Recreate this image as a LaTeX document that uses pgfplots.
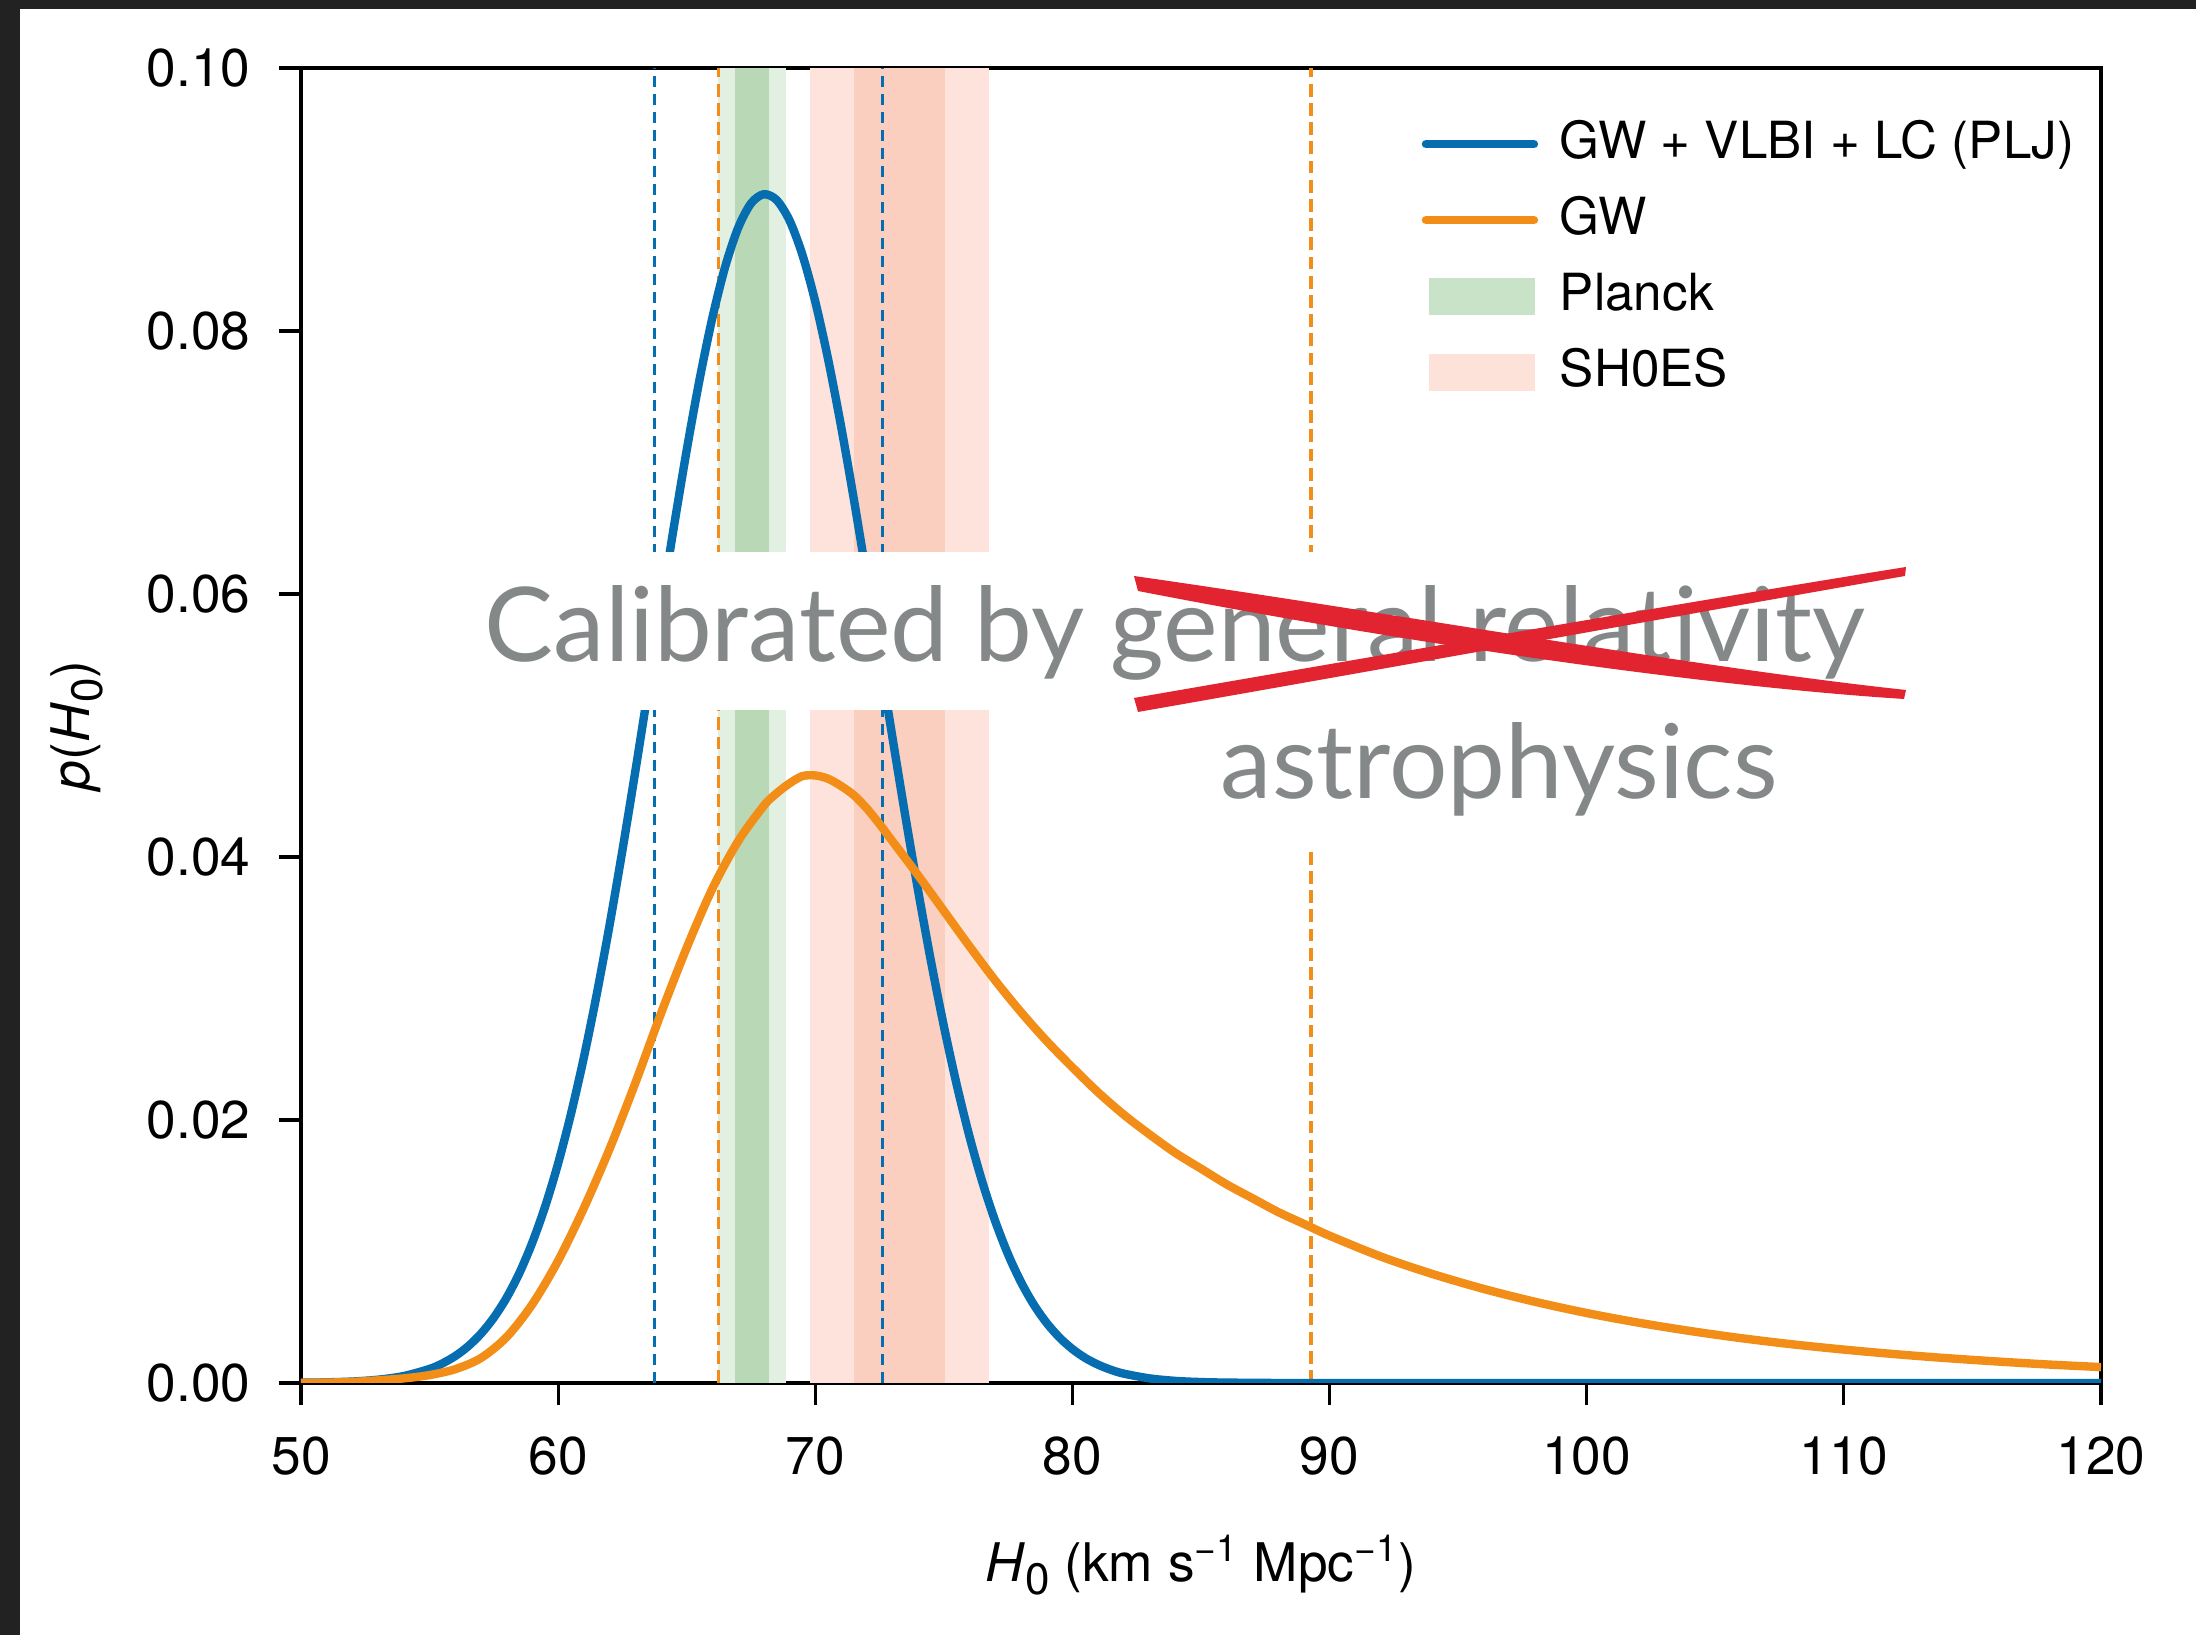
\documentclass[border=0pt]{standalone}
\usepackage{fontspec}
\setmainfont{TeX Gyre Heros}
\newfontfamily\avenir{Lato}
\usepackage{pgfplots}
\pgfplotsset{compat=1.18}
\usepackage{graphicx}

\definecolor{cblue}{RGB}{6,110,176}
\definecolor{corange}{RGB}{242,142,24}
\definecolor{pl1}{RGB}{184,216,182}
\definecolor{pl2}{RGB}{226,240,225}
\definecolor{sh1}{RGB}{250,207,191}
\definecolor{sh2}{RGB}{253,227,219}
\definecolor{plleg}{RGB}{200,227,200}
\definecolor{shleg}{RGB}{253,226,218}
\definecolor{tgray}{RGB}{132,136,137}
\definecolor{xred}{RGB}{226,36,48}
\definecolor{scrframe}{RGB}{34,34,34}

\pgfplotstableread{
h p
50 0.00002
51 0.00005
52 0.00011
53 0.00025
54 0.00053
55 0.00107
55.5 0.00149
56 0.00205
56.5 0.00279
57 0.00375
57.5 0.00497
58 0.0065
58.5 0.00839
59 0.0107
59.5 0.01345
60 0.0167
60.5 0.02047
61 0.02475
61.5 0.02955
62 0.03482
62.5 0.04051
63 0.0465
63.5 0.0527
64 0.05896
64.5 0.06509
65 0.07094
65.5 0.07631
66 0.08102
66.5 0.08491
67 0.08784
67.5 0.0897
68 0.0904
68.5 0.08995
69 0.0884
69.5 0.08579
70 0.08223
70.5 0.07784
71 0.07278
71.5 0.0672
72 0.06128
72.5 0.0552
73 0.0491
73.5 0.04313
74 0.03743
74.5 0.03206
75 0.02714
75.5 0.02268
76 0.01872
76.5 0.01526
77 0.01229
77.5 0.00977
78 0.00767
78.5 0.00595
79 0.00456
79.5 0.00345
80 0.00258
80.5 0.00190
81 0.00139
81.5 0.00100
82 0.00071
83 0.00035
84 0.00016
85 0.00007
86 0.00003
88 0.0
90 0.0
120 0.0
}\bluetab

\pgfplotstableread{
h p
50 0.00001
51 0.00003
52 0.00008
53 0.0002
54 0.00035
55 0.0006
56 0.00105
57 0.0019
58 0.0035
59 0.0060
60 0.0093
61 0.0133
62 0.0178
63 0.0228
64 0.0281
65 0.0331
66 0.0376
67 0.0412
68 0.0439
68.5 0.04485
69 0.0456
69.5 0.04615
70 0.0462
70.5 0.04595
71 0.0454
71.5 0.0447
72 0.0437
72.5 0.0425
73 0.0412
74 0.0386
75 0.0359
76 0.0332
77 0.0306
78 0.0282
79 0.0260
80 0.0240
81 0.0221
82 0.0204
83 0.0189
84 0.0175
85 0.0163
86 0.0151
87 0.01405
88 0.0130
89 0.0121
90 0.0112
92 0.00961
94 0.00829
96 0.00715
98 0.00617
100 0.00532
102 0.00459
104 0.00396
106 0.00341
108 0.00294
110 0.00254
112 0.00219
114 0.00189
116 0.00163
118 0.00140
120 0.00121
}\orangetab

\begin{document}
\begin{tikzpicture}
\fill[white] (0,0) rectangle (549pt,408.75pt);
\fill[scrframe] (0,406.5pt) rectangle (549pt,408.75pt);
\fill[scrframe] (0,0) rectangle (5pt,408.75pt);
\begin{axis}[
  scale only axis, width=450pt, height=328.75pt,
  at={(75.25pt,63pt)}, anchor=south west,
  xmin=50, xmax=120, ymin=0, ymax=0.1,
  xtick={50,60,70,80,90,100,110,120},
  ytick={0,0.02,0.04,0.06,0.08,0.1},
  yticklabel style={/pgf/number format/fixed, /pgf/number format/fixed zerofill, /pgf/number format/precision=2, inner sep=0pt, xshift=-7pt},
  /pgf/number format/assume math mode=true,
  tick align=outside, tick pos=left, major tick length=5.5pt,
  axis line style={line width=0.8pt},
  every tick/.style={black, line width=0.8pt},
  ticklabel style={font=\fontsize{13.3}{16}\selectfont},
  xticklabel style={inner sep=0pt, anchor=base, yshift=-17.5pt},
  xlabel={\textit{H}\raisebox{-0.45ex}{\fontsize{11}{12}\selectfont 0} (km s\textsuperscript{−1} Mpc\textsuperscript{−1})},
  ylabel={\textit{p}(\textit{H}\raisebox{-0.45ex}{\fontsize{11}{12}\selectfont 0})},
  label style={font=\fontsize{13.3}{16}\selectfont, inner sep=0pt},
  xlabel style={at={(axis description cs:0.5,-0.1513)}, anchor=base},
  ylabel style={at={(axis description cs:-0.1244,0.5)}, anchor=center},
  legend style={at={(axis description cs:0.6222,0.9624)}, anchor=north west,
    draw=none, fill=none, inner sep=0pt, row sep=6pt,
    font=\fontsize{12.8}{15}\selectfont,
    nodes={inner sep=0pt, text height=10pt, text depth=3pt}},
  legend cell align=left,
  clip=true,
]
% bands
\addplot[draw=none, fill=pl2, forget plot] coordinates {(66.22,0) (66.22,0.1) (68.86,0.1) (68.86,0)} -- cycle;
\addplot[draw=none, fill=pl1, forget plot] coordinates {(66.88,0) (66.88,0.1) (68.20,0.1) (68.20,0)} -- cycle;
\addplot[draw=none, fill=sh2, forget plot] coordinates {(69.79,0) (69.79,0.1) (76.76,0.1) (76.76,0)} -- cycle;
\addplot[draw=none, fill=sh1, forget plot] coordinates {(71.52,0) (71.52,0.1) (75.03,0.1) (75.03,0)} -- cycle;
% dashed intervals
\addplot[cblue, line width=0.85pt, dash pattern=on 2.8pt off 1.7pt, forget plot] coordinates {(63.75,0) (63.75,0.1)};
\addplot[cblue, line width=0.85pt, dash pattern=on 2.8pt off 1.7pt, forget plot] coordinates {(72.62,0) (72.62,0.1)};
\addplot[corange, line width=0.85pt, dash pattern=on 3.2pt off 1.6pt, forget plot] coordinates {(66.23,0) (66.23,0.1)};
\addplot[corange, line width=0.85pt, dash pattern=on 3.2pt off 1.6pt, forget plot] coordinates {(89.28,0) (89.28,0.1)};
% curves
\addplot[cblue, line width=2.1pt, line join=round, smooth, tension=0.5, forget plot] table[x=h, y=p] {\bluetab};
\addplot[corange, line width=2.1pt, line join=round, smooth, tension=0.5, forget plot] table[x=h, y=p] {\orangetab};
% legend
\addlegendimage{legend image code/.code={\draw[cblue, line width=2.1pt, line cap=round] (0pt,0pt) -- (27pt,0pt); \path[draw=none] (0pt,0pt) -- (33.5pt,0pt);}}
\addlegendentry{GW + VLBI + LC (PLJ)}
\addlegendimage{legend image code/.code={\draw[corange, line width=2.1pt, line cap=round] (0pt,0pt) -- (27pt,0pt); \path[draw=none] (0pt,0pt) -- (33.5pt,0pt);}}
\addlegendentry{GW}
\addlegendimage{legend image code/.code={\fill[plleg, draw=none] (0.7pt,-4.6pt) rectangle (27.3pt,4.6pt); \path[draw=none] (0pt,0pt) -- (33.5pt,0pt);}}
\addlegendentry{Planck}
\addlegendimage{legend image code/.code={\fill[shleg, draw=none] (0.7pt,-4.6pt) rectangle (27.3pt,4.6pt); \path[draw=none] (0pt,0pt) -- (33.5pt,0pt);}}
\addlegendentry{SH0ES}
\end{axis}
\begin{scope}[shift={(0pt,408.75pt)}, x=0.25pt, y=-0.25pt]
\fill[white] (470,552) rectangle (1910,710);
\fill[white] (1190,710) rectangle (1810,847);
\node[anchor=base west, inner sep=0pt, text=tgray, font=\avenir\fontsize{25.8}{30}\selectfont] at (484,662) {Calibrated by general relativity};
\node[anchor=base west, inner sep=0pt, text=tgray, font=\avenir\fontsize{25.8}{30}\selectfont] at (1220,799) {astrophysics};
\fill[xred] (1134,576) .. controls (1400,614) and (1700,668) .. (1906,690) -- (1904,699) .. controls (1700,686) and (1400,642) .. (1138,591) -- cycle;
\fill[xred] (1134,698) .. controls (1400,652) and (1700,600) .. (1906,567) -- (1905,576) .. controls (1700,612) and (1400,666) .. (1138,712) -- cycle;
\end{scope}
\end{tikzpicture}
\end{document}
